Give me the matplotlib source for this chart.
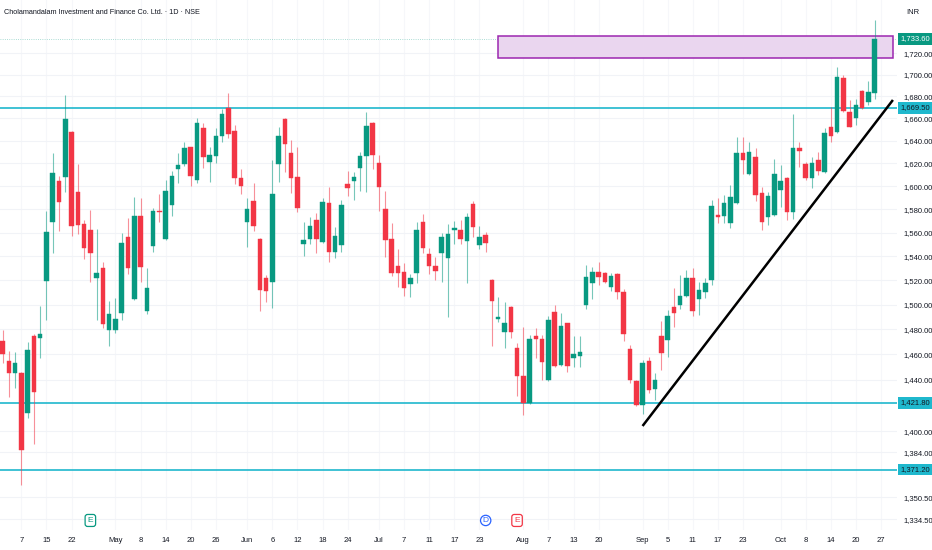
import matplotlib
matplotlib.use('Agg')
import matplotlib.pyplot as plt
import matplotlib.transforms as mtransforms
from matplotlib.patches import Rectangle
from matplotlib.ticker import NullLocator
import numpy as np
import pandas as pd

plt.rcParams['font.family'] = ['Liberation Sans Narrow', 'Liberation Sans', 'DejaVu Sans']

# NSE trading calendar for the visible window (Oct 27 is a future slot on the time axis)
holidays = ['2025-04-10', '2025-04-14', '2025-04-18', '2025-05-01',
            '2025-08-15', '2025-08-27', '2025-10-02', '2025-10-22']
days = pd.bdate_range('2025-04-02', '2025-10-27')
days = days[~days.isin(pd.to_datetime(holidays))]

# daily OHLC, Apr 2 .. Oct 24 2025
opens = [1470.6, 1454.7, 1445.0, 1445.0, 1413.9, 1474.8, 1472.8, 1519.5, 1569.3, 1604.4,
         1608.2, 1648.1, 1594.6, 1567.1, 1562.2, 1522.2, 1530.0, 1479.4, 1479.4, 1493.4,
         1556.5, 1504.6, 1574.1, 1494.8, 1548.9, 1578.4, 1554.6, 1583.6, 1615.0, 1619.1,
         1634.2, 1605.3, 1651.7, 1620.9, 1626.8, 1644.6, 1669.2, 1649.0, 1607.3, 1569.3,
         1587.3, 1554.6, 1522.2, 1518.4, 1619.1, 1659.5, 1628.9, 1607.7, 1550.3, 1554.6,
         1570.7, 1551.7, 1585.0, 1543.9, 1549.5, 1601.5, 1604.4, 1615.6, 1626.8, 1655.6,
         1620.5, 1579.9, 1554.6, 1531.9, 1526.7, 1516.7, 1526.4, 1568.8, 1541.9, 1532.1,
         1542.5, 1538.8, 1562.2, 1562.2, 1553.1, 1584.4, 1549.5, 1557.9, 1520.3, 1488.1,
         1478.0, 1498.3, 1464.8, 1442.8, 1422.0, 1474.8, 1472.0, 1439.7, 1493.7, 1451.6,
         1484.8, 1456.8, 1458.9, 1499.7, 1518.0, 1527.2, 1525.9, 1514.7, 1525.3, 1510.6,
         1464.0, 1439.2, 1420.4, 1454.7, 1432.4, 1474.6, 1471.4, 1498.3, 1499.7, 1507.1,
         1521.7, 1504.4, 1510.1, 1520.3, 1575.0, 1574.1, 1567.9, 1585.5, 1629.4, 1610.6,
         1625.9, 1594.3, 1573.5, 1575.0, 1596.6, 1606.8, 1577.6, 1633.3, 1619.4, 1606.8,
         1622.9, 1612.6, 1652.1, 1648.1, 1696.7, 1666.1, 1660.1, 1685.3, 1675.2, 1683.5]
highs = [1479.4, 1462.6, 1462.1, 1446.0, 1470.0, 1476.0, 1499.1, 1578.4, 1628.9, 1609.1,
         1681.3, 1649.0, 1619.1, 1570.7, 1579.3, 1563.0, 1535.0, 1503.0, 1505.2, 1559.4,
         1572.4, 1590.8, 1589.9, 1530.5, 1581.3, 1593.1, 1605.3, 1613.2, 1628.9, 1638.6,
         1634.8, 1660.1, 1655.6, 1634.8, 1651.2, 1668.6, 1682.8, 1654.1, 1615.0, 1589.9,
         1602.4, 1555.5, 1524.4, 1622.9, 1652.6, 1660.5, 1640.7, 1634.8, 1569.3, 1573.5,
         1576.4, 1589.9, 1599.5, 1564.5, 1587.9, 1613.2, 1612.1, 1630.3, 1665.6, 1656.5,
         1627.4, 1595.7, 1567.9, 1545.9, 1534.7, 1525.3, 1569.3, 1575.8, 1546.7, 1539.7,
         1559.9, 1567.3, 1570.1, 1570.7, 1576.9, 1587.0, 1565.6, 1560.7, 1521.0, 1506.5,
         1502.4, 1498.9, 1469.3, 1481.5, 1475.4, 1480.7, 1475.4, 1490.7, 1499.7, 1493.4,
         1485.3, 1474.6, 1474.6, 1532.7, 1531.3, 1535.5, 1527.2, 1525.9, 1526.0, 1512.6,
         1467.4, 1440.0, 1455.5, 1458.1, 1445.0, 1486.9, 1495.6, 1513.4, 1524.4, 1528.6,
         1530.0, 1518.9, 1521.7, 1587.9, 1589.4, 1592.3, 1601.0, 1643.1, 1643.1, 1639.2,
         1633.3, 1599.0, 1595.1, 1623.5, 1618.5, 1608.0, 1664.1, 1639.2, 1621.4, 1625.9,
         1630.3, 1651.2, 1670.2, 1706.8, 1699.8, 1676.8, 1677.4, 1685.9, 1694.5, 1751.4]
lows = [1453.1, 1426.4, 1433.7, 1359.7, 1410.0, 1390.2, 1457.3, 1487.5, 1542.5, 1561.4,
        1594.6, 1557.4, 1558.6, 1537.7, 1518.4, 1487.5, 1481.2, 1466.6, 1476.8, 1487.5,
        1524.9, 1503.5, 1518.4, 1492.1, 1543.9, 1569.3, 1553.5, 1574.4, 1602.4, 1617.9,
        1600.1, 1602.4, 1616.1, 1603.8, 1620.0, 1638.6, 1642.8, 1601.5, 1592.9, 1548.1,
        1561.6, 1494.8, 1501.9, 1497.5, 1603.8, 1612.1, 1593.7, 1577.9, 1540.5, 1550.1,
        1542.5, 1550.9, 1535.5, 1538.3, 1543.9, 1591.7, 1587.9, 1595.7, 1594.6, 1615.0,
        1578.4, 1539.7, 1523.6, 1514.7, 1507.1, 1506.5, 1518.0, 1542.5, 1525.3, 1520.3,
        1518.9, 1489.7, 1550.1, 1550.1, 1518.0, 1556.5, 1546.1, 1543.9, 1466.6, 1486.2,
        1464.8, 1472.8, 1427.2, 1412.6, 1421.0, 1456.8, 1439.7, 1439.0, 1450.0, 1450.8,
        1446.3, 1449.7, 1449.7, 1496.2, 1504.4, 1516.1, 1517.5, 1511.4, 1504.4, 1470.8,
        1437.1, 1419.5, 1413.3, 1429.3, 1424.1, 1447.6, 1457.6, 1482.1, 1496.2, 1506.0,
        1490.7, 1491.5, 1505.2, 1516.1, 1568.5, 1567.9, 1563.6, 1584.8, 1610.6, 1609.7,
        1587.3, 1562.2, 1566.5, 1574.0, 1582.2, 1570.7, 1571.5, 1617.0, 1605.3, 1598.1,
        1609.7, 1611.8, 1639.2, 1647.2, 1666.2, 1652.1, 1654.1, 1668.3, 1672.2, 1677.4]
closes = [1460.0, 1445.2, 1453.4, 1385.9, 1463.4, 1430.6, 1476.2, 1560.2, 1611.2, 1586.4,
          1659.5, 1565.9, 1566.5, 1547.2, 1542.5, 1525.9, 1484.0, 1492.1, 1488.1, 1551.4,
          1530.5, 1574.1, 1531.3, 1513.4, 1578.4, 1577.6, 1595.7, 1609.1, 1618.5, 1633.8,
          1608.8, 1655.6, 1625.9, 1627.4, 1644.3, 1664.3, 1645.8, 1606.8, 1600.4, 1580.2,
          1565.9, 1512.0, 1511.2, 1592.9, 1644.3, 1636.8, 1607.3, 1580.8, 1553.7, 1565.9,
          1554.6, 1586.4, 1543.9, 1557.1, 1583.6, 1598.1, 1608.2, 1626.5, 1653.5, 1627.4,
          1599.5, 1553.7, 1526.4, 1526.4, 1513.9, 1521.7, 1562.2, 1546.7, 1532.1, 1528.0,
          1556.5, 1558.6, 1563.6, 1554.3, 1573.0, 1564.5, 1556.0, 1550.9, 1503.2, 1490.2,
          1484.8, 1478.0, 1442.8, 1422.0, 1472.0, 1472.0, 1454.1, 1487.5, 1450.8, 1482.6,
          1450.8, 1460.2, 1461.6, 1523.1, 1527.2, 1522.5, 1518.4, 1523.9, 1510.6, 1476.0,
          1439.7, 1420.4, 1453.4, 1431.9, 1439.7, 1461.3, 1490.7, 1493.4, 1507.1, 1522.2,
          1495.0, 1512.0, 1517.5, 1582.7, 1573.0, 1585.5, 1590.8, 1629.4, 1622.9, 1630.3,
          1592.3, 1569.3, 1591.4, 1610.6, 1604.7, 1577.6, 1633.3, 1631.2, 1606.8, 1620.5,
          1613.4, 1646.7, 1644.3, 1697.6, 1667.0, 1652.6, 1672.2, 1669.2, 1684.4, 1733.6]

label_dates = ['2025-04-07', '2025-04-15', '2025-04-22', '2025-05-02', '2025-05-08',
               '2025-05-14', '2025-05-20', '2025-05-26', '2025-06-02', '2025-06-06',
               '2025-06-12', '2025-06-18', '2025-06-24', '2025-07-01', '2025-07-07',
               '2025-07-11', '2025-07-17', '2025-07-23', '2025-08-01', '2025-08-07',
               '2025-08-13', '2025-08-20', '2025-09-01', '2025-09-05', '2025-09-11',
               '2025-09-17', '2025-09-23', '2025-10-01', '2025-10-08', '2025-10-14',
               '2025-10-20', '2025-10-27']
# 1,420.00 sits under the 1,421.80 tag, so the scale leaves it out
price_ticks = list(range(1720, 1439, -20)) + [1400.0, 1384.0, 1350.5, 1334.5]

levels = [1669.5, 1421.8, 1371.2]
zone_low, zone_high, zone_start = 1715.6, 1736.2, '2025-07-28'
trend_start, trend_start_price, trend_end_price = '2025-09-01', 1404.1, 1676.8
events = [('2025-04-25', 'E', '#089981'), ('2025-07-24', 'D', '#2962ff'),
          ('2025-07-31', 'E', '#f23645')]
title = 'Cholamandalam Investment and Finance Co. Ltd. · 1D · NSE'

UP, DOWN, LEVEL = '#089981', '#f23645', '#1fb8cd'

fig = plt.figure(figsize=(9.32, 5.5), dpi=100)
ax = fig.add_axes([0, 20 / 550, 897 / 932, 530 / 550])
ax.set_yscale('log')
ax.set_ylim(1326.8, 1770.6)
ax.set_xlim(-0.4, 142.55)

o = np.array(opens); h = np.array(highs); l = np.array(lows); c = np.array(closes)
x = np.arange(len(o))
cols = np.where(c >= o, UP, DOWN)
ax.vlines(x, l, h, colors=cols, lw=0.8, alpha=0.55, zorder=3)
ax.bar(x, np.abs(c - o), bottom=np.minimum(o, c), width=0.72, color=cols,
       edgecolor=cols, linewidth=0.3, zorder=4)

# levels, zone, trend
for lv in levels:
    ax.axhline(lv, color=LEVEL, lw=1.2, zorder=2)
ax.axhline(c[-1], color=UP, lw=0.6, ls=':', alpha=0.45, zorder=1)
zx = days.get_loc(pd.Timestamp(zone_start))
ax.add_patch(Rectangle((zx, zone_low), 141.9 - zx, zone_high - zone_low,
                       facecolor='#ead6ef', edgecolor='#9c27b0', lw=1.1, zorder=2))
tx = days.get_loc(pd.Timestamp(trend_start))
ax.plot([tx, 141.9], [trend_start_price, trend_end_price], color='black', lw=1.8,
        solid_capstyle='butt', zorder=5)

# axes styling
for s in ax.spines.values():
    s.set_visible(False)
pos = [days.get_loc(pd.Timestamp(d)) for d in label_dates]
labels = []
for d, p in zip(label_dates, pos):
    d = pd.Timestamp(d)
    if p == 0 or days[p - 1].month != d.month:
        labels.append(d.strftime('%b'))
    else:
        labels.append(str(d.day))
ax.set_xticks(pos)
ax.set_xticklabels(labels)
ax.yaxis.tick_right()
ax.set_yticks(price_ticks)
ax.set_yticklabels(['{:,.2f}'.format(t) for t in price_ticks])
ax.yaxis.set_minor_locator(NullLocator())
ax.tick_params(axis='x', length=0, pad=5, labelsize=5.5, labelcolor='#131722')
ax.tick_params(axis='y', length=0, pad=5, labelsize=5.5, labelcolor='#131722')
ax.set_axisbelow(True)
ax.grid(True, axis='y', color='#f1f3f7', lw=0.8)
ax.grid(True, axis='x', color='#f6f7fa', lw=0.8)

# price tags on the right scale
trans = mtransforms.blended_transform_factory(ax.transAxes, ax.transData)
def tag(price, fc, tc):
    ax.text(1.004, price, '{:,.2f}'.format(price), transform=trans, ha='left', va='center',
            fontsize=5.5, color=tc, clip_on=False, zorder=10,
            bbox=dict(boxstyle='square,pad=0.3', fc=fc, ec='none'))
tag(c[-1], UP, 'white')
for lv in levels:
    tag(lv, LEVEL, '#131722')

# earnings / dividend badges
etrans = mtransforms.blended_transform_factory(ax.transData, ax.transAxes)
for d, letter, col in events:
    ex = days.get_loc(pd.Timestamp(d))
    ax.text(ex, 0.018, letter, transform=etrans, ha='center', va='center', fontsize=6,
            color=col, zorder=10,
            bbox=dict(boxstyle='circle,pad=0.2' if letter == 'D' else 'round,pad=0.3',
                      fc='white', ec=col, lw=0.9))

fig.text(4 / 932, 1 - 13 / 550, title, fontsize=5.2, color='#131722', va='center')
fig.text(906 / 932, 1 - 12 / 550, 'INR', fontsize=5.5, color='#131722', va='center')

fig.savefig('out.png', dpi=100, facecolor='white')
